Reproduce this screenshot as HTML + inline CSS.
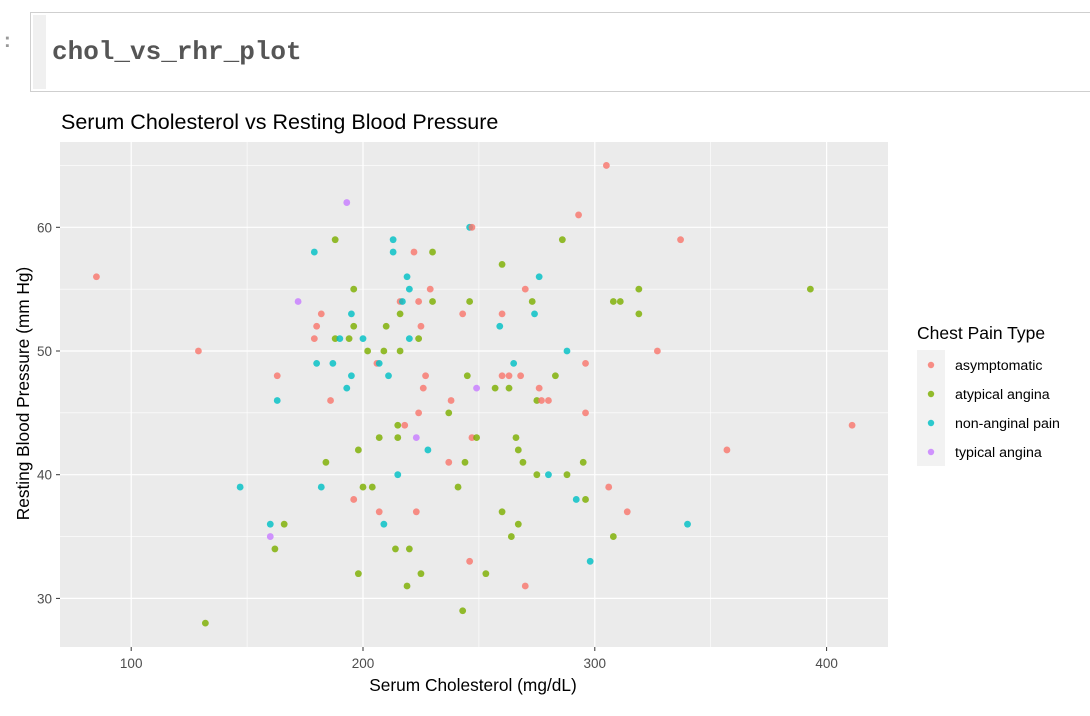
<!DOCTYPE html>
<html><head><meta charset="utf-8"><style>
body{margin:0;width:1090px;height:716px;background:#fff;overflow:hidden;font-family:"Liberation Sans",sans-serif;position:relative}
.cell{position:absolute;left:30px;top:12px;width:1060px;height:78px;border:1px solid #cfcfcf;border-right:none;background:#fff}
.cell .bar{position:absolute;left:2px;top:2px;width:13px;height:74px;background:#f0f0f0}
.cell .code{position:absolute;left:21px;top:24px;font-family:"Liberation Mono",monospace;font-weight:bold;font-size:26px;color:#555}
.prompt{position:absolute;left:4px;top:30px;color:#999;font-size:20px;font-weight:bold}
</style></head><body>
<div class="prompt">:</div>
<div class="cell"><div class="bar"></div><div class="code">chol_vs_rhr_plot</div></div>
<svg id="chart" width="1090" height="716" style="position:absolute;left:0;top:0"></svg>
<script>
const types=["asymptomatic","atypical angina","non-anginal pain","typical angina"];
const colors=["#F8766D","#7CAE00","#00BFC4","#C77CFF"];
const xTicks=[100,200,300,400];
const yTicks=[30,40,50,60];
const chol=[193,188,179,196,172,182,195,180,196,179,188,190,194,200,202,129,180,187,206,207,163,195,193,163,186,207,198,184,147,182,200,204,196,207,160,166,160,162,198,132,305,293,246,247,213,286,213,222,230,260,219,276,220,229,270,216,217,224,230,246,273,308,311,216,243,260,274,210,225,259,220,224,209,216,288,265,296,211,227,245,260,263,268,283,226,249,257,263,276,238,275,277,280,224,237,296,215,218,215,223,247,249,266,228,267,237,244,269,295,215,275,280,288,241,306,292,296,223,260,314,209,267,264,308,214,220,246,298,225,253,219,270,243,85,327,337,340,357,393,411,319,319];
const bp=[62,59,58,55,54,53,53,52,52,51,51,51,51,51,50,50,49,49,49,49,48,48,47,46,46,43,42,41,39,39,39,39,38,37,36,36,35,34,32,28,65,61,60,60,59,59,58,58,58,57,56,56,55,55,55,54,54,54,54,54,54,54,54,53,53,53,53,52,52,52,51,51,50,50,50,49,49,48,48,48,48,48,48,48,47,47,47,47,47,46,46,46,46,45,45,45,44,44,43,43,43,43,43,42,42,41,41,41,41,40,40,40,40,39,39,38,38,37,37,37,36,36,35,35,34,34,33,33,32,32,31,31,29,56,50,59,36,42,55,44,55,53];
const ptype=[3,1,2,1,3,0,2,0,1,0,1,2,1,2,1,0,2,2,0,2,0,2,2,2,0,1,1,1,2,2,1,1,0,0,2,1,3,1,1,1,0,0,2,0,2,1,2,0,1,1,2,2,2,0,0,0,2,0,1,1,1,1,1,1,0,0,2,1,0,2,2,1,1,1,2,2,0,2,0,1,0,0,0,1,0,3,1,1,0,0,1,0,0,0,1,0,1,0,1,3,0,1,1,2,1,0,1,1,1,2,1,2,1,1,0,2,1,0,1,0,2,1,1,1,1,1,0,2,1,1,1,0,1,0,0,0,2,0,1,0,1,1];
const NS="http://www.w3.org/2000/svg";
const svg=document.getElementById('chart');
const L=60,R=888,T=142,B=647;
const X=v=>363+(v-200)*2.318;
const Y=v=>227.3-(v-60)*12.37;
function mk(tag,attrs,parent){const e=document.createElementNS(NS,tag);for(const k in attrs)e.setAttribute(k,attrs[k]);(parent||svg).appendChild(e);return e;}
const bg=mk('rect',{x:L,y:T,width:R-L,height:B-T,fill:'#ebebeb'});


for(let i=0;i<xTicks.length;i++){const a=xTicks[i];const m=a+50;
 if(X(m)<R){const g=mk('line',{x1:X(m),x2:X(m),y1:T,y2:B,stroke:'#fff','stroke-width':0.6});}
 if(i==0&&X(a-50)>L){const g=mk('line',{x1:X(a-50),x2:X(a-50),y1:T,y2:B,stroke:'#fff','stroke-width':0.6});}
 const g=mk('line',{x1:X(a),x2:X(a),y1:T,y2:B,stroke:'#fff','stroke-width':1.2});
 
 
 const tk=mk('line',{x1:X(a),x2:X(a),y1:B,y2:B+4,stroke:'#333','stroke-width':1});
 
 
 const t=mk('text',{x:X(a),y:B+21,'text-anchor':'middle','font-size':13.5,fill:'#4d4d4d'});t.textContent=a;
 
 }
for(let i=0;i<yTicks.length;i++){const a=yTicks[i];const m=a+5;
 const gm=mk('line',{x1:L,x2:R,y1:Y(m),y2:Y(m),stroke:'#fff','stroke-width':0.6});
 const g=mk('line',{x1:L,x2:R,y1:Y(a),y2:Y(a),stroke:'#fff','stroke-width':1.2});
 
 
 const tk=mk('line',{x1:L-4,x2:L,y1:Y(a),y2:Y(a),stroke:'#333','stroke-width':1});
 
 
 const t=mk('text',{x:L-8,y:Y(a)+5,'text-anchor':'end','font-size':13.5,fill:'#4d4d4d'});t.textContent=a;
 
 }
for(let i=0;i<chol.length;i++){
 const c=mk('circle',{cx:X(chol[i]),cy:Y(bp[i]),r:3.4,fill:colors[ptype[i]],'fill-opacity':0.82});
 
 }
const title=mk('text',{x:61,y:129,'font-size':21.5,fill:'#000'});title.textContent='Serum Cholesterol vs Resting Blood Pressure';


const xt=mk('text',{x:(L+R)/2-1,y:691,'text-anchor':'middle','font-size':17.3,fill:'#000'});xt.textContent='Serum Cholesterol (mg/dL)';


const yt=mk('text',{x:0,y:0,'text-anchor':'middle','font-size':17.3,fill:'#000',transform:`translate(29,${(T+B)/2-1}) rotate(-90)`});yt.textContent='Resting Blood Pressure (mm Hg)';


const lt=mk('text',{x:917,y:339,'font-size':17.5,fill:'#000'});lt.textContent='Chest Pain Type';


for(let i=0;i<types.length;i++){const y=350+i*29;
 const k=mk('rect',{x:917,y:y,width:28,height:29,fill:'#f2f2f2'});
 
 
 const c=mk('circle',{cx:931,cy:y+15,r:3.2,fill:colors[i],'fill-opacity':0.82});
 
 
 const t=mk('text',{x:955,y:y+20,'font-size':14.2,fill:'#000'});t.textContent=types[i];
 
 }
</script>
</body></html>
